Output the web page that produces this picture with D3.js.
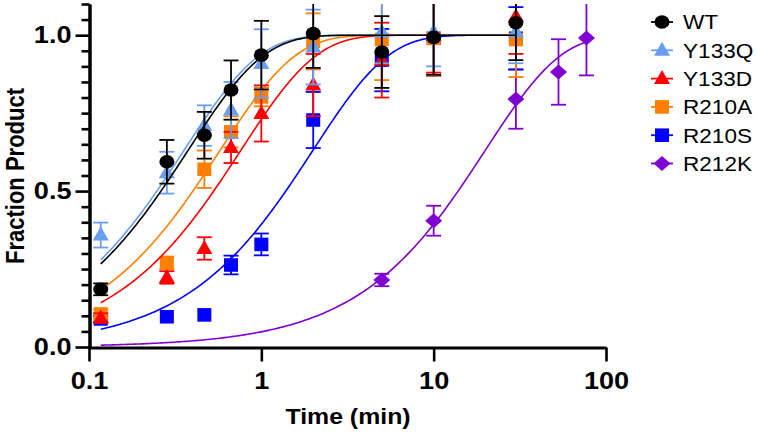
<!DOCTYPE html>
<html><head><meta charset="utf-8">
<script src="https://cdn.jsdelivr.net/npm/d3@7"></script>
<style>
body{margin:0;background:#fff}
text{font-family:"Liberation Sans",Arial,Helvetica,sans-serif}
</style></head>
<body><svg id="c" width="757" height="436"></svg>
<script>
// ---- data ----
const times = [0.117, 0.283, 0.467, 0.667, 1, 2, 5, 10, 30];
const timesR212K = [5, 10, 30, 53, 77];
const seriesNames = ["WT", "Y133Q", "Y133D", "R210A", "R210S", "R212K"];
const colors = ["#000000", "#6a9eef", "#ff0000", "#ff8000", "#0000ff", "#7f00d0"];
const shapes = ["circle", "triangle", "triangle", "square", "square", "diamond"];

const wtVals   = [0.185, 0.594, 0.679, 0.824, 0.936, 1.005, 0.946, 0.993, 1.040];
const wtErr    = [0.019, 0.070, 0.075, 0.095, 0.110, 0.110, 0.115, 0.120, 0.120];
const y133qVals= [0.359, 0.559, 0.710, 0.760, 0.909, 0.962, 1.010, 1.010, 1.010];
const y133qErr = [0.040, 0.067, 0.065, 0.090, 0.110, 0.120, 0.100, 0.110, 0.100];
const y133dVals= [0.093, 0.223, 0.316, 0.640, 0.749, 0.840, 0.920, 1.000, 1.060];
const y133dErr = [0.015, 0.020, 0.036, 0.050, 0.090, 0.100, 0.120, 0.120, 0.120];
const r210aVals= [0.106, 0.270, 0.570, 0.690, 0.802, 0.980, 0.986, 0.990, 0.986];
const r210aErr = [0.015, 0.020, 0.060, 0.050, 0.030, 0.090, 0.130, 0.120, 0.120];
const r210sVals= [0.090, 0.097, 0.103, 0.263, 0.329, 0.728, 0.920, 0.990, 0.990];
const r210sErr = [0.010, 0.000, 0.000, 0.030, 0.035, 0.090, 0.100, 0.120, 0.100];
const r212kVals= [0.215, 0.405, 0.795, 0.882, 0.991];
const r212kErr = [0.020, 0.048, 0.095, 0.105, 0.120];

// fitted first-order rate constants (min^-1) for the curves
const rateK = [2.65, 2.8, 1.31, 1.73, 0.5, 0.05];
const fitStart = [0.117, 0.117, 0.117, 0.117, 0.117, 0.117];
const fitEnd = [30, 30, 30, 30, 30, 77];

const xTicks = [0.1, 1, 10, 100];
const yTicks = [0, 0.5, 1.0];
const yMinorTicks = [0.05,0.1,0.15,0.2,0.25,0.3,0.35,0.4,0.45,0.55,0.6,0.65,0.7,0.75,0.8,0.85,0.9,0.95,1.05,1.1];

const xTitle = "Time (min)";
const yTitle = "Fraction Product";

// ---- build ----
const svg = d3.select("#c");
const x = d3.scaleLog().domain([0.1, 100]).range([89, 606]);
const y = d3.scaleLinear().domain([0, 1.1]).range([347, 4]);
const SX = 1.13; // horizontal stretch of the reference rendering

const series = [
  {t: times, v: wtVals, e: wtErr},
  {t: times, v: y133qVals, e: y133qErr},
  {t: times, v: y133dVals, e: y133dErr},
  {t: times, v: r210aVals, e: r210aErr},
  {t: times, v: r210sVals, e: r210sErr},
  {t: timesR212K, v: r212kVals, e: r212kErr}
].map((s, i) => ({...s, name: seriesNames[i], color: colors[i], shape: shapes[i], k: rateK[i], t0: fitStart[i], t1: fitEnd[i]}));

function markerPath(shape) {
  if (shape === "circle") {
    const rx = 7.5, ry = 6.8;
    return `M${-rx},0A${rx},${ry} 0 1,0 ${rx},0A${rx},${ry} 0 1,0 ${-rx},0Z`;
  }
  if (shape === "triangle") return "M0,-8.5L8,5.5L-8,5.5Z";
  if (shape === "square") return "M-7,-6.8H7V6.8H-7Z";
  if (shape === "diamond") return "M0,-7.5L8.5,0L0,7.5L-8.5,0Z";
}

// axes
const yAxis = d3.axisLeft(y).tickValues(yTicks).tickFormat(d3.format(".1f")).tickSize(14).tickSizeOuter(0).tickPadding(4);
const yMinor = d3.axisLeft(y).tickValues(yMinorTicks).tickFormat("").tickSize(8).tickSizeOuter(0);
const xAxis = d3.axisBottom(x).tickValues(xTicks).tickFormat(d => String(d)).tickSize(14).tickSizeOuter(0).tickPadding(10);

const gyMinor = svg.append("g").attr("transform", "translate(89.5,0)").call(yMinor);
const gy = svg.append("g").attr("transform", "translate(89.5,0)").call(yAxis);
const gx = svg.append("g").attr("transform", "translate(0,347.5)").call(xAxis);
[gy, gyMinor, gx].forEach(g => {
  g.selectAll("path.domain").attr("stroke", "#000").attr("stroke-width", 3);
  g.selectAll(".tick line").attr("stroke", "#000").attr("stroke-width", 2.6);
});
gy.selectAll(".tick text").attr("font-size", 24).attr("font-weight", "bold").attr("fill", "#000")
  .attr("transform", `scale(${SX},1)`).attr("x", -18 / SX);
gx.selectAll(".tick text").attr("font-size", 24).attr("font-weight", "bold").attr("fill", "#000")
  .attr("transform", `scale(${SX},1)`);

// titles
svg.append("text").attr("transform", `translate(348,424) scale(${SX},1)`)
  .attr("text-anchor", "middle").attr("font-size", 22).attr("font-weight", "bold").text(xTitle);
svg.append("text").attr("transform", `translate(23.5,176) scale(${SX},1) rotate(-90)`)
  .attr("text-anchor", "middle").attr("font-size", 22).attr("font-weight", "bold").text(yTitle);

// plot: draw in reverse order so WT sits on top
const line = d3.line().x(d => x(d[0])).y(d => y(d[1]));
const order = [5, 4, 3, 2, 1, 0];
order.forEach(i => {
  const s = series[i];
  const g = svg.append("g");
  // fitted curve
  const pts = [];
  const n = 200;
  for (let j = 0; j <= n; j++) {
    const lt = Math.log10(s.t0) + (Math.log10(s.t1) - Math.log10(s.t0)) * j / n;
    const t = Math.pow(10, lt);
    pts.push([t, 1 - Math.exp(-s.k * t)]);
  }
  g.append("path").attr("d", line(pts)).attr("fill", "none").attr("stroke", s.color).attr("stroke-width", 1.6);
  // error bars
  s.t.forEach((t, j) => {
    const e = s.e[j];
    if (e <= 0) return;
    const cx = x(t), y0 = y(s.v[j] - e), y1 = y(Math.min(s.v[j] + e, 1.1));
    g.append("line").attr("x1", cx).attr("x2", cx).attr("y1", y0).attr("y2", y1).attr("stroke", s.color).attr("stroke-width", 1.8);
    g.append("line").attr("x1", cx - 7.5).attr("x2", cx + 7.5).attr("y1", y0).attr("y2", y0).attr("stroke", s.color).attr("stroke-width", 1.8);
    if (s.v[j] + e <= 1.1)
      g.append("line").attr("x1", cx - 7.5).attr("x2", cx + 7.5).attr("y1", y1).attr("y2", y1).attr("stroke", s.color).attr("stroke-width", 1.8);
  });
  // markers
  s.t.forEach((t, j) => {
    g.append("path").attr("d", markerPath(s.shape))
      .attr("transform", `translate(${x(t)},${y(s.v[j])})`).attr("fill", s.color);
  });
});

// legend
const lg = svg.append("g");
series.forEach((s, i) => {
  const cy = 22 + i * 28.3;
  lg.append("line").attr("x1", 651).attr("x2", 673).attr("y1", cy).attr("y2", cy).attr("stroke", s.color).attr("stroke-width", 1.8);
  lg.append("path").attr("d", markerPath(s.shape)).attr("transform", `translate(662,${cy})`).attr("fill", s.color);
  lg.append("text").attr("transform", `translate(683,${cy + 7.3}) scale(${SX},1)`)
    .attr("font-size", 20).attr("fill", "#000").text(s.name);
});
</script></body></html>
